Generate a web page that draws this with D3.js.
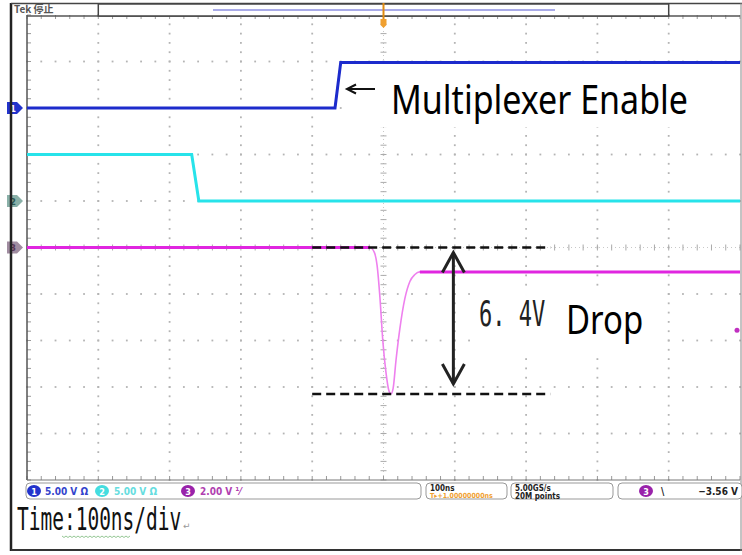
<!DOCTYPE html>
<html>
<head>
  <title>Scope capture</title>
  <script src="https://d3js.org/d3.v7.min.js"></script>
  <style>
    body { margin: 0; background: #fff; }
  </style>
</head>
<body>
  <div id="chart"></div>

  <script>
    // time axis in ns, 100 ns/div, trigger at 0
    var timeTicks = [-500, -400, -300, -200, -100, 0, 100, 200, 300, 400, 500];

    // Ch1 (blue) multiplexer enable, 5.00 V/div
    var ch1Time = [-500, -68, -60, 500];
    var ch1Volt = [0, 0, 4.9, 4.9];

    // Ch2 (cyan), 5.00 V/div
    var ch2Time = [-500, -269, -259, 500];
    var ch2Volt = [5, 5, 0, 0];

    // Ch3 (magenta) supply, 2.00 V/div
    var ch3Time = [-500, -19, -13, -9, -5, -1, 3.5, 7.5, 10.5, 13.5, 17.5, 23, 30, 37, 44, 51, 500];
    var ch3Volt = [0, 0, -0.2, -0.77, -2.15, -4.0, -5.38, -6.15, -6.3, -6.06, -4.86, -3.48, -2.19, -1.46, -1.16, -1.05, -1.05];

    // drop annotation levels (Ch3 volts) and span
    var dropLevels = [0, -6.3];
    var dropSpan = [-100, 234];
    var triggerLevel = -3.56;

    var width = 742, height = 555;
    var gx0 = 27, gx1 = 740, gy0 = 15, gy1 = 480;

    var svg = d3.select("#chart").append("svg")
      .attr("width", width)
      .attr("height", height)
      .style("display", "block");

    var x = d3.scaleLinear().domain([-500, 500]).range([gx0, gx1]);
    var ydiv = d3.scaleLinear().domain([-5, 5]).range([gy1, gy0]);

    function chScale(voltsPerDiv, offsetDiv) {
      return function(v) { return ydiv(offsetDiv + v / voltsPerDiv); };
    }
    var y1 = chScale(5, 3), y2 = chScale(5, 1), y3 = chScale(2, 0);

    // ---- graticule ----
    var grid = svg.append("g");
    var minor = d3.range(-25, 26).map(function(k) { return k / 5; });

    timeTicks.forEach(function(t, i) {
      if (i == 0 || i == 10 || t == 0) return;
      grid.selectAll(null).data(minor).enter().append("rect")
        .attr("x", x(t) - 0.9).attr("y", function(k) { return ydiv(k) - 0.9; })
        .attr("width", 1.8).attr("height", 1.8).attr("fill", "#b4b4b4");
    });
    d3.range(-4, 5).forEach(function(d) {
      if (d == 0) return;
      grid.selectAll(null).data(minor).enter().append("rect")
        .attr("x", function(k) { return x(k * 100) - 0.9; }).attr("y", ydiv(d) - 0.9)
        .attr("width", 1.8).attr("height", 1.8).attr("fill", "#b4b4b4");
    });

    // center cross with minor ticks
    grid.append("line").attr("x1", x(0)).attr("x2", x(0)).attr("y1", gy0).attr("y2", gy1)
      .attr("stroke", "#c8c8c8").attr("stroke-dasharray", "1,3");
    grid.append("line").attr("x1", gx0).attr("x2", gx1).attr("y1", ydiv(0)).attr("y2", ydiv(0))
      .attr("stroke", "#c8c8c8").attr("stroke-dasharray", "1,3");
    grid.selectAll(null).data(minor).enter().append("line")
      .attr("x1", x(0) - 3).attr("x2", x(0) + 3)
      .attr("y1", function(k) { return ydiv(k); }).attr("y2", function(k) { return ydiv(k); })
      .attr("stroke", "#aaa");
    grid.selectAll(null).data(minor).enter().append("line")
      .attr("y1", ydiv(0) - 3).attr("y2", ydiv(0) + 3)
      .attr("x1", function(k) { return x(k * 100); }).attr("x2", function(k) { return x(k * 100); })
      .attr("stroke", "#aaa");

    // border ticks
    grid.selectAll(null).data(minor).enter().append("line")
      .attr("x1", gx0).attr("x2", gx0 + 4)
      .attr("y1", function(k) { return ydiv(k); }).attr("y2", function(k) { return ydiv(k); })
      .attr("stroke", "#999");
    grid.selectAll(null).data(minor).enter().append("line")
      .attr("y1", gy1).attr("y2", gy1 - 4)
      .attr("x1", function(k) { return x(k * 100); }).attr("x2", function(k) { return x(k * 100); })
      .attr("stroke", "#999");
    grid.selectAll(null).data(minor).enter().append("line")
      .attr("y1", gy0).attr("y2", gy0 + 4)
      .attr("x1", function(k) { return x(k * 100); }).attr("x2", function(k) { return x(k * 100); })
      .attr("stroke", "#999");

    grid.append("line").attr("x1", gx0).attr("x2", gx0).attr("y1", gy0).attr("y2", gy1)
      .attr("stroke", "#555").attr("stroke-width", 1.5);
    grid.append("line").attr("x1", gx0).attr("x2", gx1).attr("y1", gy1).attr("y2", gy1)
      .attr("stroke", "#777");
    grid.append("line").attr("x1", gx0).attr("x2", gx1).attr("y1", gy0 + 1).attr("y2", gy0 + 1)
      .attr("stroke", "#555").attr("stroke-width", 1.5);

    // white label boxes behind the annotations
    svg.append("rect").attr("x", 344).attr("y", 67).attr("width", 398).attr("height", 60).attr("fill", "#fff");
    svg.append("rect").attr("x", 470).attr("y", 290).attr("width", 190).attr("height", 62).attr("fill", "#fff");

    // ---- traces ----
    function pts(ts, vs) { return ts.map(function(t, i) { return [t, vs[i]]; }); }
    function drawTrace(data, ys, color, edgeColor, curve, flatPred) {
      var line = d3.line().x(function(d) { return x(d[0]); }).y(function(d) { return ys(d[1]); }).curve(curve);
      svg.append("path").attr("d", line(data)).attr("fill", "none")
        .attr("stroke", edgeColor).attr("stroke-width", 1.6);
      // thick flat sections
      var segs = [], cur = [];
      data.forEach(function(d, i) {
        if (flatPred(d, i)) cur.push(d);
        else { if (cur.length > 1) segs.push(cur); cur = []; }
      });
      if (cur.length > 1) segs.push(cur);
      segs.forEach(function(s) {
        svg.append("path").attr("d", d3.line().x(function(d) { return x(d[0]); }).y(function(d) { return ys(d[1]); })(s))
          .attr("fill", "none").attr("stroke", color).attr("stroke-width", 3);
      });
    }

    var c1 = pts(ch1Time, ch1Volt), c2 = pts(ch2Time, ch2Volt), c3 = pts(ch3Time, ch3Volt);
    drawTrace(c1, y1, "#1c2bcc", "#4a55d8", d3.curveLinear, function(d, i) { return true; });
    drawTrace(c2, y2, "#27e3ea", "#5ee8ee", d3.curveLinear, function(d, i) { return true; });
    drawTrace(c3, y3, "#e026e0", "#ee80ee", d3.curveMonotoneX, function(d, i) { return d[0] <= -19 || d[0] >= 51; });

    // ---- drop annotation ----
    var ann = svg.append("g");
    dropLevels.forEach(function(v) {
      ann.append("line").attr("x1", x(dropSpan[0])).attr("x2", x(dropSpan[1]))
        .attr("y1", y3(v)).attr("y2", y3(v))
        .attr("stroke", "#111").attr("stroke-width", 2.5).attr("stroke-dasharray", "9,5");
    });
    var ax = x(98), aTop = y3(dropLevels[0]) + 5, aBot = y3(dropLevels[1]) - 10;
    ann.append("line").attr("x1", ax).attr("x2", ax).attr("y1", aTop).attr("y2", aBot)
      .attr("stroke", "#222").attr("stroke-width", 3);
    ann.append("path").attr("d", "M" + (ax - 11) + "," + (aTop + 20) + "L" + ax + "," + aTop + "L" + (ax + 11) + "," + (aTop + 20))
      .attr("fill", "none").attr("stroke", "#222").attr("stroke-width", 3);
    ann.append("path").attr("d", "M" + (ax - 11) + "," + (aBot - 20) + "L" + ax + "," + aBot + "L" + (ax + 11) + "," + (aBot - 20))
      .attr("fill", "none").attr("stroke", "#222").attr("stroke-width", 3);

    ann.append("text").attr("transform", "translate(479,326) scale(1,1.6)")
      .style("font-family", "DejaVu Sans Mono").style("font-size", "22px").attr("fill", "#222")
      .text("6. 4V");
    ann.append("text").attr("transform", "translate(566,334) scale(1,1.2)")
      .style("font-family", "Noto Sans").style("font-size", "33px").attr("fill", "#000")
      .text("Drop");

    // arrow pointing at the enable edge
    ann.append("line").attr("x1", 348).attr("x2", 375).attr("y1", 89).attr("y2", 89)
      .attr("stroke", "#111").attr("stroke-width", 2);
    ann.append("path").attr("d", "M356,84.5L347,89L356,93.5").attr("fill", "none")
      .attr("stroke", "#111").attr("stroke-width", 2);
    ann.append("text").attr("transform", "translate(391,114) scale(1,1.2)")
      .style("font-family", "Noto Sans").style("font-size", "34px").attr("fill", "#000")
      .text("Multiplexer Enable");

    // ---- channel markers ----
    var markers = [
      { y: y1(0), fill: "#2233cc", label: "1", tc: "#fff" },
      { y: y2(0), fill: "#8ab0a8", label: "2", tc: "#2d5a55" },
      { y: y3(0), fill: "#a08ca0", label: "3", tc: "#5a3a5a" }
    ];
    markers.forEach(function(m) {
      svg.append("path").attr("d", "M7," + (m.y - 6) + "h10l6,6l-6,6h-10z").attr("fill", m.fill);
      svg.append("text").attr("x", 13).attr("y", m.y + 3.5).attr("text-anchor", "middle")
        .style("font-family", "DejaVu Sans").style("font-size", "9px").style("font-weight", "bold")
        .attr("fill", m.tc).text(m.label);
    });
    svg.append("circle").attr("cx", 737).attr("cy", y3(triggerLevel)).attr("r", 2.5).attr("fill", "#c030c0");

    // ---- outer frame and top bar ----
    svg.append("line").attr("x1", 11).attr("x2", 11).attr("y1", 3).attr("y2", 551)
      .attr("stroke", "#222").attr("stroke-width", 2.5);
    svg.append("line").attr("x1", 11).attr("x2", 742).attr("y1", 3.5).attr("y2", 3.5)
      .attr("stroke", "#444").attr("stroke-width", 1.5);
    svg.append("line").attr("x1", 11).attr("x2", 742).attr("y1", 550).attr("y2", 550)
      .attr("stroke", "#333").attr("stroke-width", 2);
    svg.append("line").attr("x1", 741).attr("x2", 741).attr("y1", 3).attr("y2", 551)
      .attr("stroke", "#888").attr("stroke-width", 1);

    svg.append("rect").attr("x", x(-400)).attr("y", 4).attr("width", x(400) - x(-400)).attr("height", 12)
      .attr("fill", "#fff").attr("stroke", "#444").attr("stroke-width", 1.5);
    svg.append("line").attr("x1", 213).attr("x2", 555).attr("y1", 10).attr("y2", 10)
      .attr("stroke", "#8d8fe0").attr("stroke-width", 1.5);
    svg.append("text").attr("x", 14).attr("y", 13)
      .style("font-family", "Noto Sans CJK SC").style("font-size", "10px").style("font-weight", "bold")
      .attr("fill", "#555").text("Tek 停止");
    svg.append("line").attr("x1", x(0)).attr("x2", x(0)).attr("y1", 3).attr("y2", 19)
      .attr("stroke", "#e08a10").attr("stroke-width", 2);
    svg.append("path").attr("d", "M" + (x(0) - 3) + ",19h6v6l-3,3l-3,-3z").attr("fill", "#f0a030");

    // ---- status bar ----
    var sb = svg.append("g").style("font-family", "DejaVu Sans Condensed, DejaVu Sans").style("font-weight", "bold");
    function box(x0, x1) {
      sb.append("rect").attr("x", x0).attr("y", 483).attr("width", x1 - x0).attr("height", 16).attr("rx", 4)
        .attr("fill", "#fff").attr("stroke", "#999");
    }
    box(26, 421); box(426, 507); box(511, 613); box(618, 742);
    var chans = [
      { cx: 34, fill: "#2233cc", tfill: "#3344cc", text: "5.00 V \u03a9", tx: 45, n: "1" },
      { cx: 102, fill: "#44dde0", tfill: "#66dde0", text: "5.00 V \u03a9", tx: 114, n: "2" },
      { cx: 188, fill: "#9922aa", tfill: "#b040b0", text: "2.00 V \u215f", tx: 200, n: "3" }
    ];
    chans.forEach(function(c) {
      sb.append("ellipse").attr("cx", c.cx).attr("cy", 491).attr("rx", 7).attr("ry", 6).attr("fill", c.fill);
      sb.append("text").attr("x", c.cx).attr("y", 494.5).attr("text-anchor", "middle")
        .style("font-size", "9px").attr("fill", "#fff").text(c.n);
      sb.append("text").attr("x", c.tx).attr("y", 495).style("font-size", "10px").attr("fill", c.tfill).text(c.text);
    });
    sb.append("text").attr("x", 430).attr("y", 491).style("font-size", "8px").attr("fill", "#222").text("100ns");
    sb.append("text").attr("x", 430).attr("y", 498).style("font-size", "7px").attr("fill", "#f0a030").text("T\u25b8+1.00000000ns");
    sb.append("text").attr("x", 515).attr("y", 491).style("font-size", "8px").attr("fill", "#222").text("5.00GS/s");
    sb.append("text").attr("x", 515).attr("y", 498.5).style("font-size", "8px").attr("fill", "#222").text("20M points");
    sb.append("ellipse").attr("cx", 646).attr("cy", 491).attr("rx", 7).attr("ry", 6).attr("fill", "#9922aa");
    sb.append("text").attr("x", 646).attr("y", 494.5).attr("text-anchor", "middle")
      .style("font-size", "9px").attr("fill", "#fff").text("3");
    sb.append("text").attr("x", 661).attr("y", 495).style("font-size", "10px").attr("fill", "#222").text("\\");
    sb.append("text").attr("x", 738).attr("y", 495).attr("text-anchor", "end")
      .style("font-size", "10px").attr("fill", "#222").text("\u22123.56 V");

    // ---- caption ----
    svg.append("text").attr("transform", "translate(17,530) scale(1,1.6)")
      .style("font-family", "DejaVu Sans Mono").style("font-size", "19.5px").attr("fill", "#111")
      .text("Time:100ns/div");
    svg.append("text").attr("x", 183).attr("y", 529)
      .style("font-family", "DejaVu Sans").style("font-size", "9px").attr("fill", "#999").text("\u21b5");
    var wav = d3.range(0, 35).map(function(i) { return [62 + i * 2, 536 + (i % 2) * 1.5]; });
    svg.append("path").attr("d", d3.line()(wav)).attr("fill", "none").attr("stroke", "#7ab87a").attr("stroke-width", 0.8);
  </script>
</body>
</html>
